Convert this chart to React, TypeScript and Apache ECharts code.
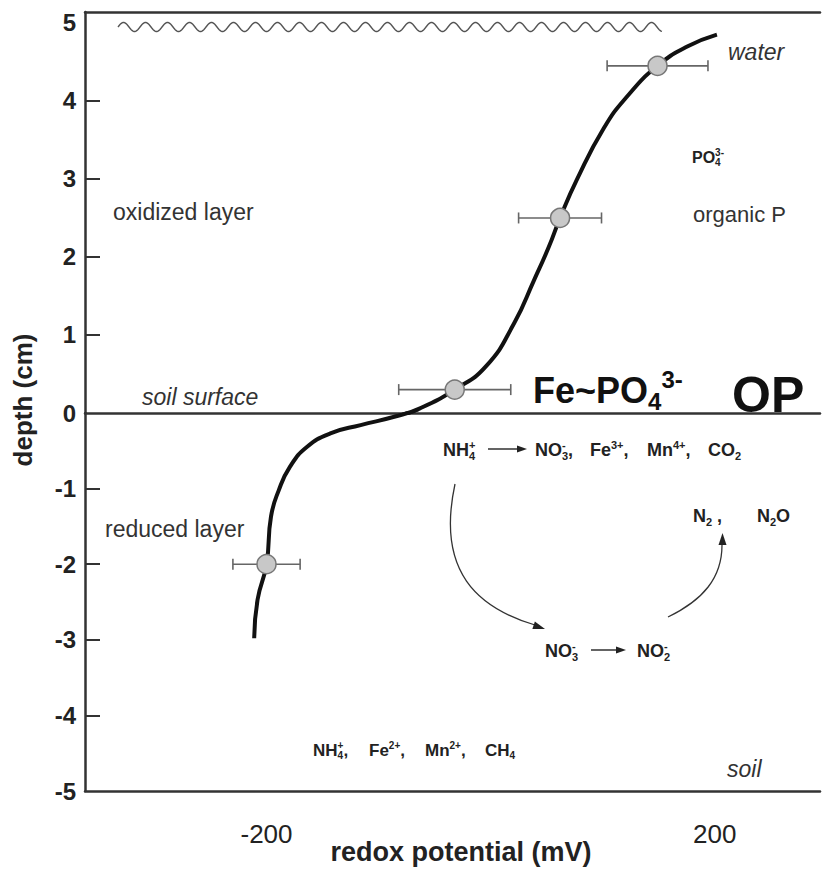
import React, { useEffect, useRef } from "react";
import * as echarts from "echarts";

// ---- data ----
// S-shaped redox profile: redox potential (mV) vs depth (cm)
const curveRedox = [-211, -208, -200, -196, -189, -179, -164, -143, -116, -86, -63, -32, -4, 21, 39, 52, 62, 77, 101, 122, 149, 176, 202];
const curveDepth = [-2.98, -2.47, -2, -1.37, -1.02, -0.71, -0.45, -0.27, -0.16, -0.05, 0.06, 0.3, 0.6, 1.15, 1.71, 2.13, 2.5, 2.99, 3.65, 4.06, 4.45, 4.7, 4.85];
// measured points with horizontal error bars
const pointRedox = [-200, -32, 62, 149];
const pointDepth = [-2, 0.3, 2.5, 4.45];
const pointErr = [30, 50, 37, 45];
// axis tick labels
const xTickLabels = [-200, 200];
const yLabelsUpper = [0, 1, 2, 3, 4, 5];
const yTicksUpper = [1, 2, 3, 4];
const yLabelsLower = [-5, -4, -3, -2, -1];
const yTicksLower = [-4, -3, -2, -1];

const X_MIN = -362;
const X_MAX = 294;
const FF = '"Liberation Sans", Arial, Helvetica, sans-serif';

let ctx2d: CanvasRenderingContext2D | null = null;
function measure(text: string, size: number, weight = "bold"): number {
  if (!ctx2d) ctx2d = document.createElement("canvas").getContext("2d");
  ctx2d!.font = `${weight} ${size}px ${FF}`;
  return ctx2d!.measureText(text).width;
}

type Tok = { t: "n" | "sub" | "sup" | "ss"; s: string; s2?: string };

function chem(x0: number, yc: number, size: number, toks: Tok[], ratio = 0.6, color = "#222") {
  const els: any[] = [];
  const small = Math.round(size * ratio);
  const base = yc + 0.3465 * size;
  const subC = base + 0.2 * size - 0.3465 * small;
  const supC = base - 0.42 * size - 0.3465 * small;
  const txt = (s: string, x: number, y: number, fs: number) => ({
    type: "text",
    x,
    y,
    silent: true,
    style: { text: s, fontFamily: FF, fontSize: fs, fontWeight: "bold", fill: color, align: "left", verticalAlign: "middle" },
  });
  let x = x0;
  for (const tk of toks) {
    if (tk.t === "n") {
      els.push(txt(tk.s, x, yc, size));
      x += measure(tk.s, size);
    } else if (tk.t === "sub") {
      els.push(txt(tk.s, x, subC, small));
      x += measure(tk.s, small);
    } else if (tk.t === "sup") {
      els.push(txt(tk.s, x, supC, small));
      x += measure(tk.s, small);
    } else {
      els.push(txt(tk.s, x, subC, small));
      els.push(txt(tk.s2 || "", x, supC, small));
      x += Math.max(measure(tk.s, small), measure(tk.s2 || "", small));
    }
  }
  return els;
}

function plain(text: string, x: number, y: number, size: number, opts: any = {}) {
  return {
    type: "text",
    x,
    y,
    silent: true,
    rotation: opts.rotation || 0,
    style: {
      text,
      fontFamily: FF,
      fontSize: size,
      fontWeight: opts.weight || "normal",
      fontStyle: opts.italic ? "italic" : "normal",
      fill: opts.color || "#333",
      align: opts.align || "left",
      verticalAlign: "middle",
    },
  };
}

function hArrow(x1: number, x2: number, y: number) {
  return [
    { type: "line", silent: true, shape: { x1, y1: y, x2: x2 - 8, y2: y }, style: { stroke: "#222", lineWidth: 1.4 } },
    { type: "polygon", silent: true, shape: { points: [[x2, y], [x2 - 10, y - 3.5], [x2 - 10, y + 3.5]] }, style: { fill: "#222" } },
  ];
}

function head(tx: number, ty: number, dx: number, dy: number, len = 12, half = 4) {
  const n = Math.hypot(dx, dy);
  const ux = dx / n, uy = dy / n;
  const bx = tx - ux * len, by = ty - uy * len;
  return {
    type: "polygon",
    silent: true,
    shape: { points: [[tx, ty], [bx - uy * half, by + ux * half], [bx + uy * half, by - ux * half]] },
    style: { fill: "#222" },
  };
}

function wave() {
  const pts: number[][] = [];
  for (let x = 118; x <= 662; x += 1) {
    pts.push([x, 27 - 4.5 * Math.sin((2 * Math.PI * (x - 118)) / 22)]);
  }
  return { type: "polyline", silent: true, shape: { points: pts }, style: { stroke: "#555", lineWidth: 1.4, fill: null } };
}

export default function App() {
  const ref = useRef<HTMLDivElement>(null);

  useEffect(() => {
    document.body.style.margin = "0";
    if (!ref.current) return;
    const chart = echarts.init(ref.current, undefined, { renderer: "svg" });

    const curve = curveRedox.map((x, i) => [x, curveDepth[i]]);
    const pts = pointRedox.map((x, i) => [x, pointDepth[i], pointErr[i]]);
    const upperPts = pts.filter((p) => p[1] >= 0);
    const lowerPts = pts.filter((p) => p[1] < 0);

    const axisLine = { show: true, onZero: false, lineStyle: { color: "#333", width: 2.5 } };

    const errRender = (params: any, api: any) => {
      const x = api.value(0), y = api.value(1), e = api.value(2);
      const a = api.coord([x - e, y]);
      const b = api.coord([x + e, y]);
      const st = { stroke: "#666", lineWidth: 1.6 };
      const h = 5.5;
      return {
        type: "group",
        children: [
          { type: "line", shape: { x1: a[0], y1: a[1], x2: b[0], y2: b[1] }, style: st },
          { type: "line", shape: { x1: a[0], y1: a[1] - h, x2: a[0], y2: a[1] + h }, style: st },
          { type: "line", shape: { x1: b[0], y1: b[1] - h, x2: b[0], y2: b[1] + h }, style: st },
        ],
      };
    };

    const curveSeries = (xi: number, yi: number) => ({
      type: "line",
      xAxisIndex: xi,
      yAxisIndex: yi,
      data: curve,
      smooth: 0.5,
      symbol: "none",
      clip: true,
      z: 2,
      lineStyle: { color: "#111", width: 4 },
    });
    const errSeries = (xi: number, yi: number, d: number[][]) => ({
      type: "custom",
      xAxisIndex: xi,
      yAxisIndex: yi,
      data: d,
      renderItem: errRender,
      z: 3,
    });
    const dotSeries = (xi: number, yi: number, d: number[][]) => ({
      type: "scatter",
      xAxisIndex: xi,
      yAxisIndex: yi,
      data: d.map((p) => [p[0], p[1]]),
      symbol: "circle",
      symbolSize: 19,
      z: 4,
      itemStyle: { color: "#c8c8c8", borderColor: "#777", borderWidth: 1.5, opacity: 1 },
    });

    const graphics: any[] = [
      wave(),
      plain("water", 728, 52, 23, { italic: true }),
      ...chem(692, 157, 16, [{ t: "n", s: "PO" }, { t: "ss", s: "4", s2: "3-" }]),
      plain("oxidized layer", 113, 212, 23),
      plain("organic P", 693, 214, 22),
      plain("soil surface", 142, 397, 23, { italic: true }),
      ...chem(533, 390, 36, [{ t: "n", s: "Fe~PO" }, { t: "sub", s: "4" }, { t: "sup", s: "3-" }], 0.66, "#111"),
      plain("OP", 732, 395, 50, { weight: "bold", color: "#111" }),
      ...chem(443, 450, 18, [{ t: "n", s: "NH" }, { t: "ss", s: "4", s2: "+" }]),
      ...hArrow(488, 527, 449),
      ...chem(535, 450, 18, [{ t: "n", s: "NO" }, { t: "ss", s: "3", s2: "-" }, { t: "n", s: "," }]),
      ...chem(590, 450, 18, [{ t: "n", s: "Fe" }, { t: "sup", s: "3+" }, { t: "n", s: "," }]),
      ...chem(647, 450, 18, [{ t: "n", s: "Mn" }, { t: "sup", s: "4+" }, { t: "n", s: "," }]),
      ...chem(708, 450, 18, [{ t: "n", s: "CO" }, { t: "sub", s: "2" }]),
      plain("reduced layer", 105, 529, 23),
      ...chem(693, 516, 18, [{ t: "n", s: "N" }, { t: "sub", s: "2" }, { t: "n", s: " ," }]),
      ...chem(757, 516, 18, [{ t: "n", s: "N" }, { t: "sub", s: "2" }, { t: "n", s: "O" }]),
      {
        type: "bezierCurve",
        silent: true,
        shape: { x1: 455, y1: 484, cpx1: 436, cpy1: 572, cpx2: 478, cpy2: 608, x2: 535, y2: 625 },
        style: { stroke: "#333", lineWidth: 1.3, fill: null },
      },
      head(545, 629, 60, 20),
      {
        type: "bezierCurve",
        silent: true,
        shape: { x1: 668, y1: 617, cpx1: 703, cpy1: 600, cpx2: 722, cpy2: 578, x2: 722, y2: 545 },
        style: { stroke: "#333", lineWidth: 1.3, fill: null },
      },
      head(722.5, 533, 0, -1),
      ...chem(545, 651, 18, [{ t: "n", s: "NO" }, { t: "ss", s: "3", s2: "-" }]),
      ...hArrow(591, 626, 650),
      ...chem(637, 651, 18, [{ t: "n", s: "NO" }, { t: "ss", s: "2", s2: "-" }]),
      ...chem(313, 750, 17, [{ t: "n", s: "NH" }, { t: "ss", s: "4", s2: "+" }, { t: "n", s: "," }]),
      ...chem(369, 750, 17, [{ t: "n", s: "Fe" }, { t: "sup", s: "2+" }, { t: "n", s: "," }]),
      ...chem(425, 750, 17, [{ t: "n", s: "Mn" }, { t: "sup", s: "2+" }, { t: "n", s: "," }]),
      ...chem(485, 750, 17, [{ t: "n", s: "CH" }, { t: "sub", s: "4" }]),
      plain("soil", 727, 769, 23, { italic: true }),
      plain("redox potential (mV)", 461, 852, 27, { weight: "bold", color: "#222", align: "center" }),
      plain("depth (cm)", 23, 400, 26, { weight: "bold", color: "#222", align: "center", rotation: Math.PI / 2 }),
    ];

    chart.setOption({
      animation: false,
      backgroundColor: "#fff",
      grid: [
        { left: 85, right: 5, top: 12, bottom: 457, outerBoundsMode: "none", containLabel: false },
        { left: 85, right: 5, top: 413, bottom: 79, outerBoundsMode: "none", containLabel: false },
      ],
      xAxis: [
        {
          type: "value", gridIndex: 0, min: X_MIN, max: X_MAX, position: "bottom",
          axisLine, axisTick: { show: false }, axisLabel: { show: false }, splitLine: { show: false },
        },
        {
          type: "value", gridIndex: 0, min: X_MIN, max: X_MAX, position: "top",
          axisLine, axisTick: { show: false }, axisLabel: { show: false }, splitLine: { show: false },
        },
        {
          type: "value", gridIndex: 1, min: X_MIN, max: X_MAX, position: "bottom",
          axisLine, axisTick: { show: false }, splitLine: { show: false },
          axisLabel: {
            customValues: xTickLabels, fontSize: 26, color: "#222", fontFamily: FF, margin: 30,
            showMinLabel: true, showMaxLabel: true,
          },
        },
      ],
      yAxis: [
        {
          type: "value", gridIndex: 0, min: 0, max: 5.14, position: "left",
          axisLine,
          axisTick: { show: true, inside: true, length: 15, customValues: yTicksUpper, lineStyle: { color: "#333", width: 2 } },
          axisLabel: { customValues: yLabelsUpper, fontSize: 24, fontWeight: "bold", color: "#222", fontFamily: FF, margin: 9 },
          splitLine: { show: false },
        },
        {
          type: "value", gridIndex: 1, min: -5, max: 0, position: "left",
          axisLine,
          axisTick: { show: true, inside: true, length: 15, customValues: yTicksLower, lineStyle: { color: "#333", width: 2 } },
          axisLabel: { customValues: yLabelsLower, fontSize: 24, fontWeight: "bold", color: "#222", fontFamily: FF, margin: 9 },
          splitLine: { show: false },
        },
      ],
      series: [
        curveSeries(0, 0),
        curveSeries(2, 1),
        errSeries(0, 0, upperPts),
        errSeries(2, 1, lowerPts),
        dotSeries(0, 0, upperPts),
        dotSeries(2, 1, lowerPts),
      ],
      graphic: graphics,
    });

    return () => chart.dispose();
  }, []);

  return <div ref={ref} style={{ width: 825, height: 870 }} />;
}
